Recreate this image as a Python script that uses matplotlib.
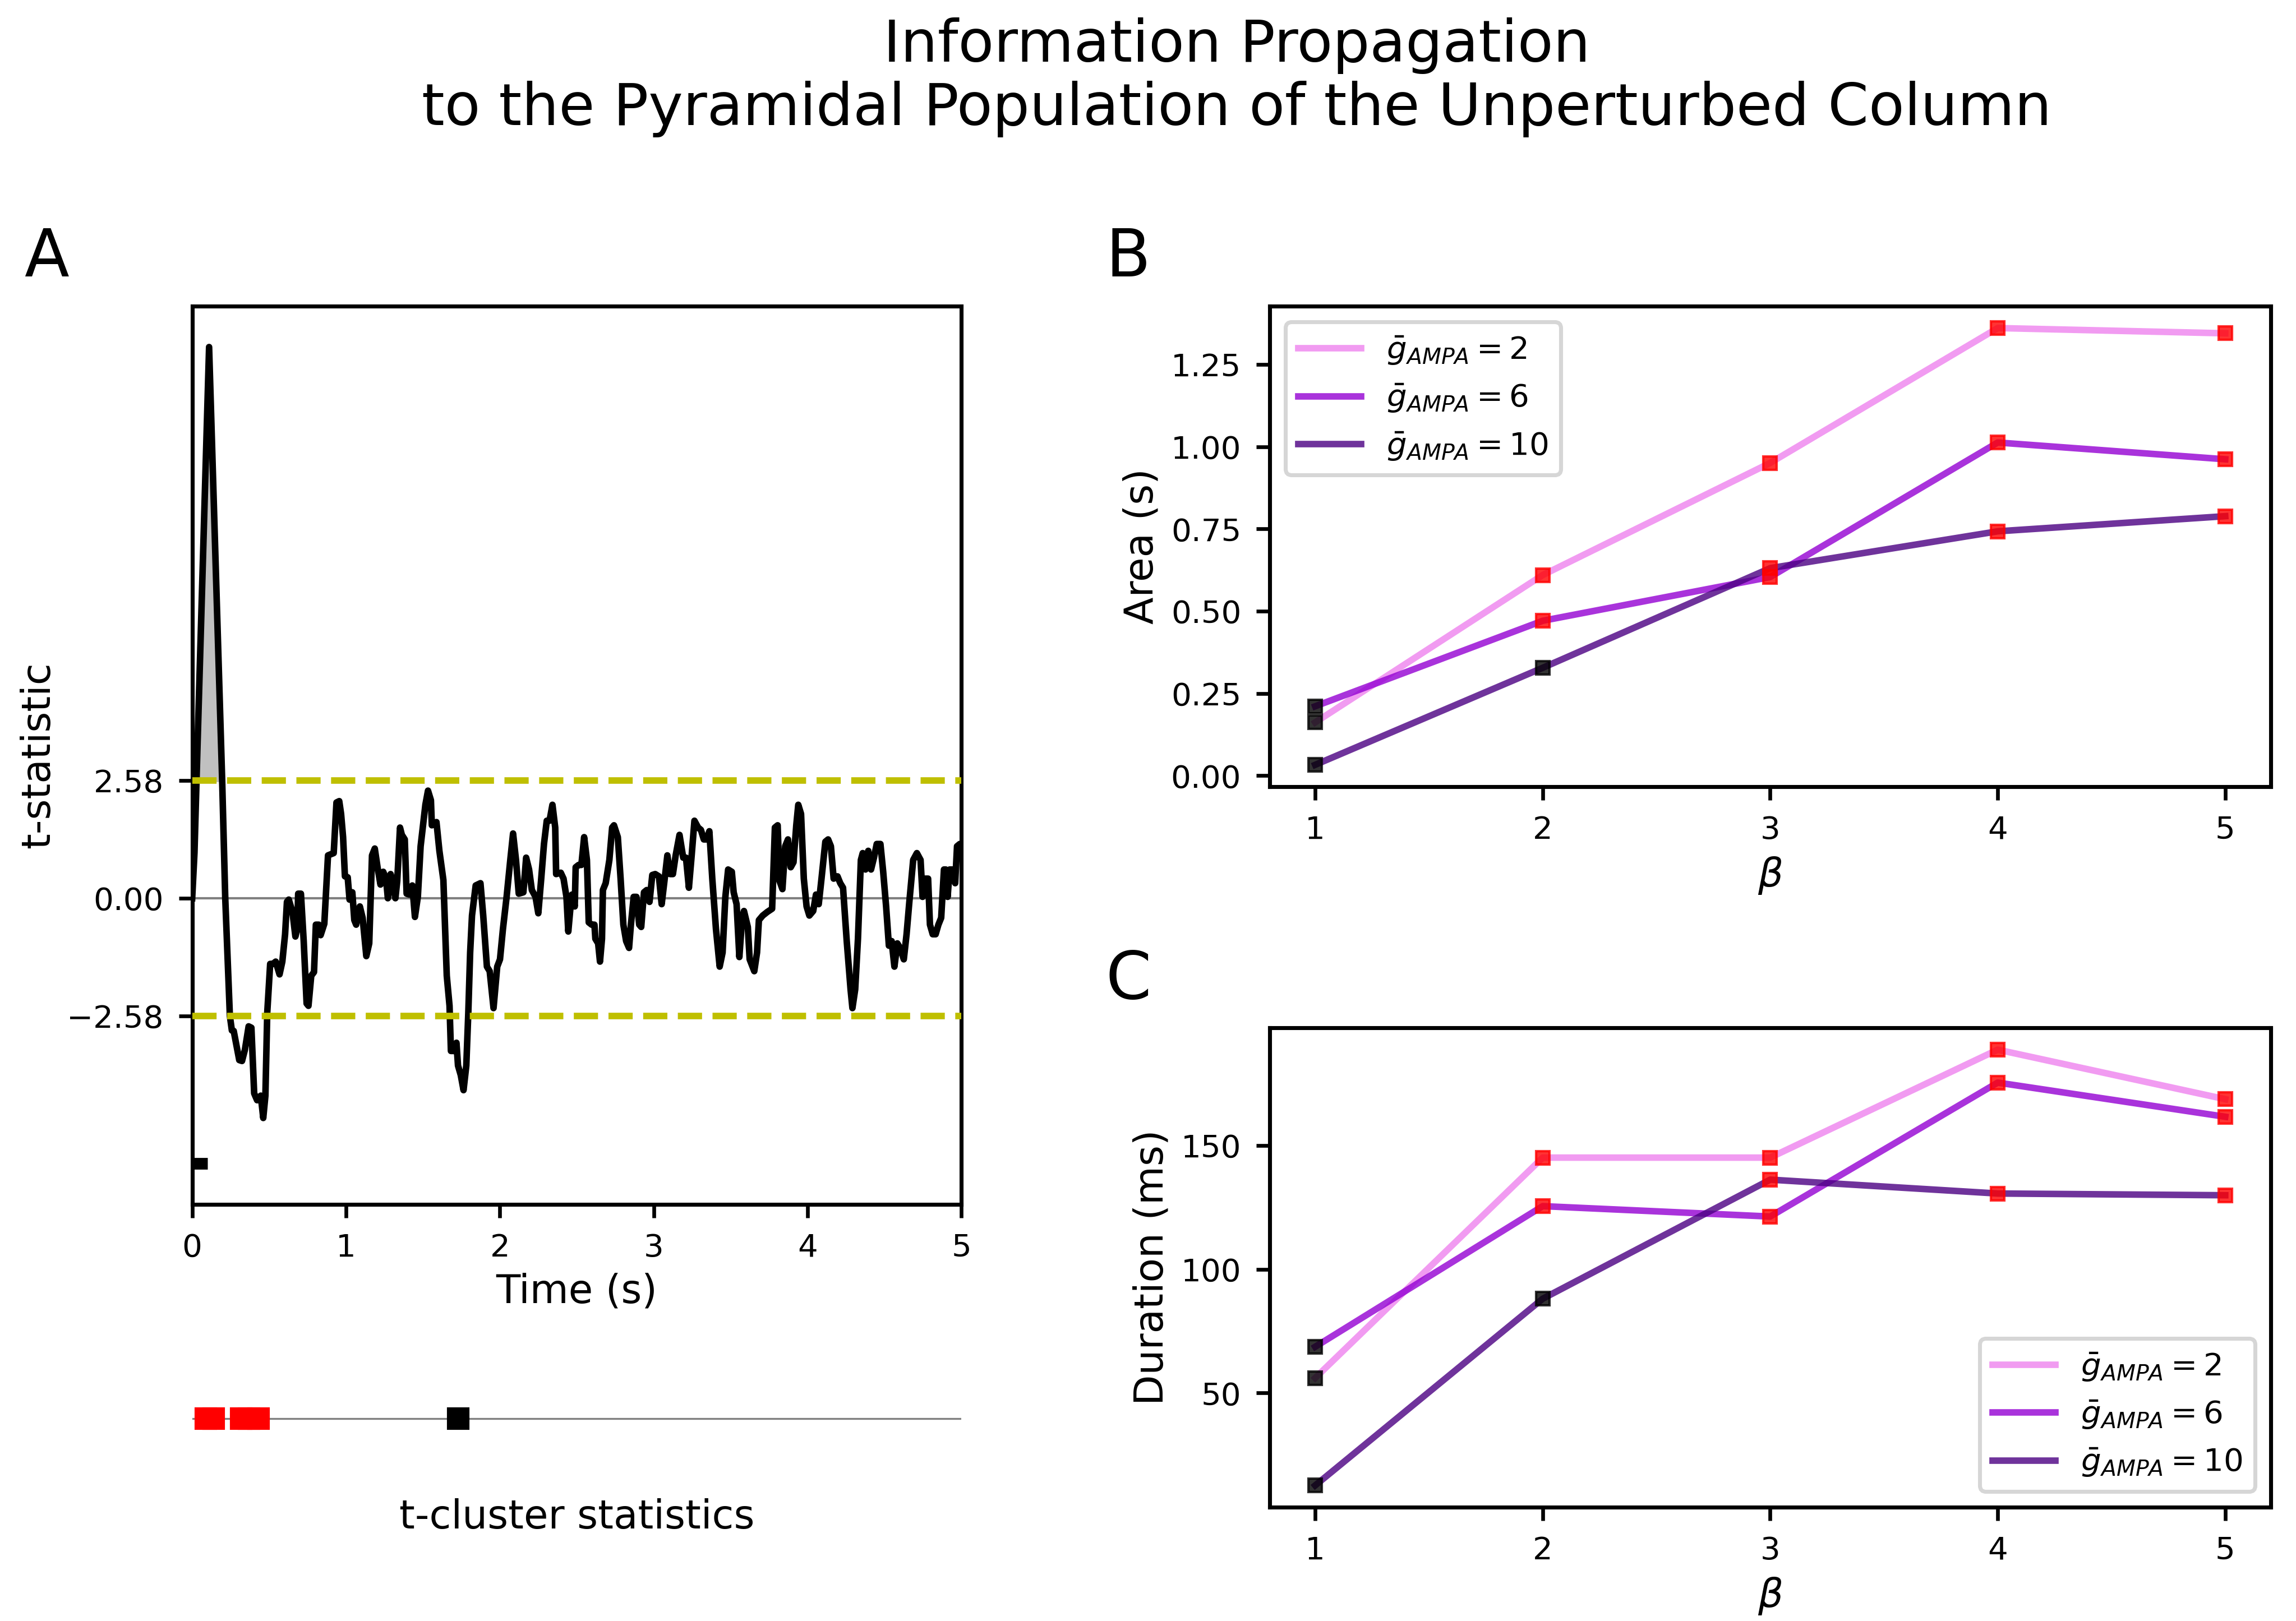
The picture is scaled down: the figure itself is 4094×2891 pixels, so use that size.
import numpy as np
import matplotlib
matplotlib.use("Agg")
import matplotlib.pyplot as plt

# ---------------------------------------------------------------
# data
# ---------------------------------------------------------------

# panel A: t-statistic trace
time_s = [0.000, 0.015, 0.030, 0.110, 0.195, 0.215, 0.245, 0.258, 0.270, 0.306,
          0.324, 0.343, 0.367, 0.385, 0.403, 0.422, 0.446, 0.462, 0.476, 0.488,
          0.507, 0.525, 0.543, 0.568, 0.586, 0.604, 0.616, 0.628, 0.652, 0.671,
          0.683, 0.689, 0.707, 0.725, 0.744, 0.756, 0.774, 0.792, 0.804, 0.823,
          0.835, 0.859, 0.883, 0.920, 0.938, 0.956, 0.968, 0.981, 0.993, 1.011,
          1.023, 1.041, 1.054, 1.066, 1.090, 1.108, 1.132, 1.151, 1.169, 1.187,
          1.205, 1.224, 1.242, 1.260, 1.272, 1.290, 1.303, 1.321, 1.333, 1.351,
          1.363, 1.382, 1.394, 1.412, 1.431, 1.448, 1.467, 1.485, 1.516, 1.533,
          1.552, 1.558, 1.588, 1.607, 1.633, 1.655, 1.673, 1.682, 1.704, 1.718,
          1.728, 1.746, 1.764, 1.782, 1.795, 1.807, 1.819, 1.843, 1.874, 1.892,
          1.916, 1.934, 1.959, 1.983, 2.001, 2.020, 2.044, 2.068, 2.086, 2.105,
          2.123, 2.153, 2.171, 2.190, 2.208, 2.232, 2.250, 2.269, 2.287, 2.305,
          2.323, 2.342, 2.360, 2.366, 2.396, 2.414, 2.433, 2.445, 2.457, 2.469,
          2.487, 2.493, 2.512, 2.530, 2.548, 2.566, 2.578, 2.597, 2.615, 2.621,
          2.639, 2.651, 2.664, 2.670, 2.688, 2.712, 2.730, 2.742, 2.767, 2.785,
          2.803, 2.821, 2.840, 2.852, 2.870, 2.888, 2.906, 2.919, 2.937, 2.955,
          2.973, 2.991, 3.010, 3.034, 3.052, 3.070, 3.089, 3.107, 3.125, 3.143,
          3.168, 3.192, 3.210, 3.229, 3.247, 3.265, 3.289, 3.307, 3.326, 3.344,
          3.362, 3.381, 3.405, 3.429, 3.448, 3.466, 3.484, 3.508, 3.520, 3.539,
          3.557, 3.575, 3.587, 3.612, 3.624, 3.654, 3.672, 3.684, 3.709, 3.739,
          3.770, 3.788, 3.806, 3.818, 3.837, 3.855, 3.873, 3.891, 3.909, 3.927,
          3.940, 3.958, 3.976, 3.994, 4.012, 4.037, 4.055, 4.073, 4.091, 4.116,
          4.134, 4.152, 4.170, 4.195, 4.213, 4.231, 4.255, 4.280, 4.292, 4.310,
          4.328, 4.347, 4.359, 4.377, 4.395, 4.413, 4.432, 4.450, 4.474, 4.492,
          4.511, 4.529, 4.547, 4.565, 4.584, 4.602, 4.626, 4.644, 4.662, 4.687,
          4.711, 4.735, 4.748, 4.766, 4.784, 4.796, 4.814, 4.833, 4.851, 4.869,
          4.887, 4.899, 4.911, 4.924, 4.942, 4.960, 4.972, 4.990, 5.000]
t_stat = [0.00, 1.00, 2.80, 12.09, 2.58, 0.00, -2.58, -2.90, -2.91, -3.55,
          -3.57, -3.32, -2.81, -2.84, -4.28, -4.43, -4.33, -4.82, -4.33, -2.51,
          -1.44, -1.44, -1.39, -1.67, -1.39, -0.79, -0.08, -0.03, -0.30, -0.84,
          -0.68, 0.10, 0.10, -0.94, -2.31, -2.36, -1.70, -1.62, -0.58, -0.58,
          -0.81, -0.56, 0.94, 0.99, 2.10, 2.13, 1.85, 1.34, 0.48, 0.46,
          -0.03, 0.13, -0.48, -0.58, -0.18, -0.43, -1.27, -0.99, 0.94, 1.09,
          0.68, 0.30, 0.58, 0.43, 0.00, 0.53, 0.35, 0.00, 0.38, 1.55,
          1.39, 1.29, 0.10, 0.08, 0.28, -0.41, 0.03, 1.14, 2.05, 2.36,
          2.15, 1.60, 1.67, 1.04, 0.40, -1.70, -2.36, -3.35, -3.35, -3.17,
          -3.67, -3.88, -4.21, -3.67, -2.51, -1.19, -0.38, 0.28, 0.33, -0.38,
          -1.50, -1.60, -2.41, -1.50, -1.34, -0.68, 0.03, 0.84, 1.42, 0.84,
          0.10, 0.13, 0.89, 0.63, 0.18, 0.03, -0.33, 0.43, 1.19, 1.70,
          1.70, 2.05, 1.55, 0.53, 0.56, 0.43, 0.03, -0.73, -0.28, 0.08,
          -0.18, 0.68, 0.73, 0.73, 1.34, 0.84, -0.53, -0.58, -0.58, -0.89,
          -0.99, -1.39, -0.89, 0.18, 0.33, 0.84, 1.55, 1.60, 1.34, 0.43,
          -0.58, -0.94, -1.09, -0.58, 0.03, 0.03, -0.58, -0.63, 0.13, 0.18,
          -0.08, 0.51, 0.53, 0.48, -0.13, 0.38, 0.94, 0.53, 0.53, 0.94,
          1.39, 0.89, 0.89, 0.23, 0.94, 1.70, 1.55, 1.50, 1.29, 1.29,
          1.47, 0.43, -0.68, -1.50, -1.19, 0.03, 0.63, 0.58, 0.13, -0.13,
          -1.29, -0.43, -0.28, -0.63, -1.34, -1.60, -1.19, -0.48, -0.38, -0.30,
          -0.23, 1.55, 1.60, 0.38, 0.20, 1.14, 1.29, 0.68, 0.79, 1.60,
          2.05, 1.85, 0.43, -0.18, -0.38, -0.28, 0.08, -0.13, 0.43, 1.24,
          1.29, 1.14, 0.43, 0.48, 0.33, 0.23, -0.94, -2.00, -2.41, -2.00,
          -0.89, 0.84, 0.99, 0.63, 1.04, 0.63, 0.89, 1.19, 1.19, 0.58,
          -0.18, -1.04, -0.94, -1.50, -0.99, -1.09, -1.34, -0.79, -0.08, 0.84,
          0.99, 0.84, 0.03, 0.43, 0.43, -0.58, -0.79, -0.79, -0.58, -0.43,
          0.63, 0.63, 0.03, 0.63, 0.63, 0.33, 1.14, 1.19, 1.15]

threshold = 2.58
cluster_bar_t = [0.0, 0.1]
cluster_bar_y = -5.82

# t-cluster statistics strip
cluster_sig = [0.09, 0.14, 0.32, 0.37, 0.43]
cluster_nonsig = [1.73]

# panels B and C
beta = [1, 2, 3, 4, 5]
g_ampa = [2, 6, 10]
area_g2 = [0.162, 0.610, 0.951, 1.361, 1.345]
area_g6 = [0.211, 0.471, 0.604, 1.013, 0.962]
area_g10 = [0.033, 0.328, 0.631, 0.743, 0.789]
dur_g2 = [56.1, 145.1, 145.1, 188.7, 168.7]
dur_g6 = [68.7, 125.5, 121.3, 175.4, 161.6]
dur_g10 = [12.7, 88.1, 136.2, 130.6, 129.9]
sig_g2 = [0, 1, 1, 1, 1]
sig_g6 = [0, 1, 1, 1, 1]
sig_g10 = [0, 0, 1, 1, 1]

line_colors = ['violet', 'darkviolet', 'indigo']

# ---------------------------------------------------------------
plt.rcParams['axes.linewidth'] = 1.7
for ax_name in ['xtick', 'ytick']:
    plt.rcParams[ax_name + '.major.size'] = 5.8
    plt.rcParams[ax_name + '.major.width'] = 1.6
    plt.rcParams[ax_name + '.major.pad'] = 6.4
    plt.rcParams[ax_name + '.labelsize'] = 13.5
plt.rcParams['axes.labelsize'] = 17

fig = plt.figure(figsize=(4094 / 300, 2891 / 300), dpi=300)

ax_a = fig.add_axes([0.0837, 0.2570, 0.3350, 0.5541])
ax_k = fig.add_axes([0.0837, 0.1076, 0.3350, 0.0346])
ax_b = fig.add_axes([0.5530, 0.5147, 0.4360, 0.2964])
ax_c = fig.add_axes([0.5530, 0.0702, 0.4360, 0.2957])

# ---- panel A
t = np.array(time_s)
v = np.array(t_stat)
ax_a.axhline(0, color='gray', lw=1.0, zorder=1)
ax_a.fill_between(t, v, threshold, where=(v >= threshold) & (t < 0.3),
                  interpolate=True, color='silver', zorder=2)
ax_a.plot(t, v, color='k', lw=2.8, zorder=3)
ax_a.plot(cluster_bar_t, [cluster_bar_y, cluster_bar_y], color='k', lw=5,
          solid_capstyle='butt', zorder=3)
ax_a.axhline(threshold, color='y', ls='--', lw=2.8, zorder=4)
ax_a.axhline(-threshold, color='y', ls='--', lw=2.8, zorder=4)
ax_a.set_xlim(0, 5)
ax_a.set_yticks([-threshold, 0, threshold])
ax_a.set_xlabel('Time (s)')
ax_a.set_ylabel('t-statistic')

# ---- cluster strip
ax_k.axhline(0, color='gray', lw=0.8, zorder=1)
ax_k.plot(cluster_sig, np.zeros(len(cluster_sig)), 's', color='red', ms=8.6, zorder=2)
ax_k.plot(cluster_nonsig, np.zeros(len(cluster_nonsig)), 's', color='k', ms=8.6, zorder=2)
ax_k.set_xlim(0, 5)
ax_k.set_ylim(-1, 1)
for s in ax_k.spines.values():
    s.set_visible(False)
ax_k.set_xticks([])
ax_k.set_yticks([])
ax_k.set_xlabel('t-cluster statistics', labelpad=22)

# ---- panels B and C
def draw_panel(ax, series, loc):
    sigs = [sig_g2, sig_g6, sig_g10]
    for vals, g, col, sig in zip(series, g_ampa, line_colors, sigs):
        ax.plot(beta, vals, color=col, alpha=0.8, lw=2.8,
                label=r'$\bar{g}_{AMPA} = %d$' % g, zorder=2)
        for b, val, s in zip(beta, vals, sig):
            mc = 'red' if s else 'k'
            ax.plot(b, val, 's', color=mc, ms=5.6, mew=1, alpha=0.8, zorder=3)
    ax.set_xticks(beta)
    ax.set_xlabel(r'$\beta$')
    leg = ax.legend(loc=loc, fontsize=13.5)
    leg.get_frame().set_linewidth(1.7)

draw_panel(ax_b, [area_g2, area_g6, area_g10], 'upper left')
ax_b.set_yticks([0, 0.25, 0.5, 0.75, 1.0, 1.25])
ax_b.set_ylabel('Area (s)')

draw_panel(ax_c, [dur_g2, dur_g6, dur_g10], 'lower right')
ax_c.set_yticks([50, 100, 150])
ax_c.set_ylabel('Duration (ms)')

# ---- titles and panel letters
fig.text(0.5386, 0.9893,
         'Information Propagation\nto the Pyramidal Population of the Unperturbed Column',
         ha='center', va='top', fontsize=25, linespacing=1.15)
fig.text(0.0105, 0.8296, 'A', fontsize=28, va='baseline')
fig.text(0.4815, 0.8296, 'B', fontsize=28, va='baseline')
fig.text(0.4815, 0.3840, 'C', fontsize=28, va='baseline')

fig.savefig('out.png', dpi=300)
